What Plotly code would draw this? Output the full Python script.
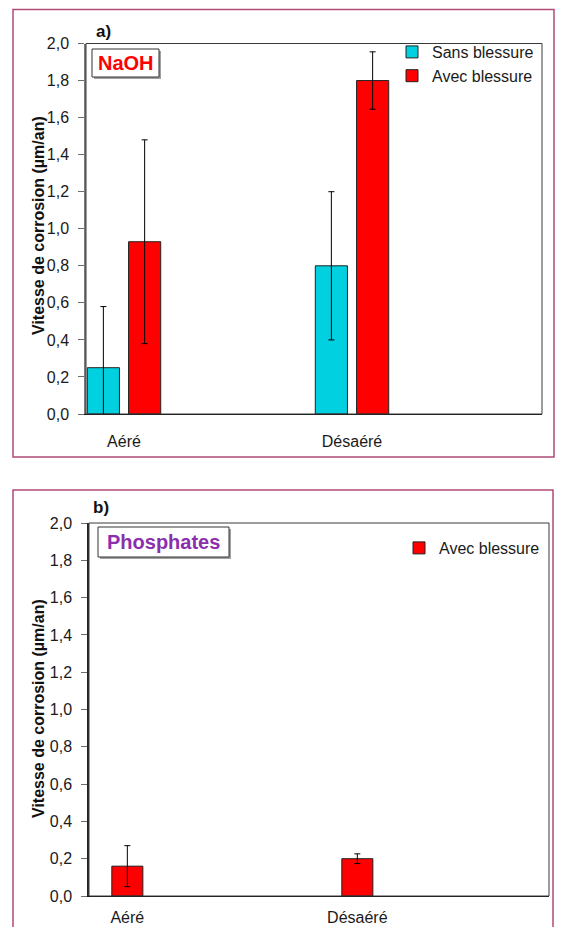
import plotly.graph_objects as go

# ---- data -------------------------------------------------------------
conditions = ["Aéré", "Désaéré"]

naoh_sans = [0.25, 0.80]
naoh_sans_err = [0.33, 0.40]
naoh_avec = [0.93, 1.80]
naoh_avec_err = [0.55, 0.155]

phos_avec = [0.16, 0.20]
phos_avec_err = [0.11, 0.026]

y_ticks = [0.0, 0.2, 0.4, 0.6, 0.8, 1.0, 1.2, 1.4, 1.6, 1.8, 2.0]

# ---- page geometry (pixels -> paper fractions) -------------------------
W, H = 562, 927


def px(x):
    return x / W


def py(y):
    return 1 - y / H


FONT = "Liberation Sans, Arial, sans-serif"
CYAN = "#00D0E0"
RED = "#FF0000"
PURPLE = "#8B2FAE"
FRAME = "#B04C78"

cat_pos = list(range(len(conditions)))

fig = go.Figure()

err_style = dict(type="data", color="black", thickness=1, width=3, visible=True)

fig.add_trace(go.Bar(
    name="Sans blessure", x=cat_pos, y=naoh_sans,
    offset=-0.161, width=0.141,
    marker=dict(color=CYAN, line=dict(color="#222222", width=1)),
    error_y=dict(array=naoh_sans_err, **err_style),
    xaxis="x", yaxis="y", legend="legend",
))
fig.add_trace(go.Bar(
    name="Avec blessure", x=cat_pos, y=naoh_avec,
    offset=0.02, width=0.141,
    marker=dict(color=RED, line=dict(color="#222222", width=1)),
    error_y=dict(array=naoh_avec_err, **err_style),
    xaxis="x", yaxis="y", legend="legend",
))
fig.add_trace(go.Bar(
    name="Avec blessure", x=cat_pos, y=phos_avec,
    offset=-0.0675, width=0.135,
    marker=dict(color=RED, line=dict(color="#222222", width=1)),
    error_y=dict(array=phos_avec_err, **err_style),
    xaxis="x2", yaxis="y2", legend="legend2",
))

x_common = dict(
    range=[-0.1667, 1.8333], tickmode="array", tickvals=cat_pos,
    ticktext=conditions, showgrid=False, zeroline=False, ticks="",
    showline=True, linecolor="#111111", linewidth=1,
    tickfont=dict(family=FONT, size=16, color="#1a1a1a"),
    automargin=False, fixedrange=True,
)
y_common = dict(
    range=[0, 2.0], tickmode="array", tickvals=y_ticks, tickformat=".1f",
    showgrid=False, zeroline=False, ticks="outside", ticklen=6,
    tickcolor="#6e6e6e", showline=True, linewidth=1.5,
    tickfont=dict(family=FONT, size=16, color="#1a1a1a"),
    ticklabelstandoff=6, automargin=False, fixedrange=True,
)

fig.update_layout(
    width=W, height=H,
    margin=dict(l=0, r=0, t=0, b=0),
    paper_bgcolor="white", plot_bgcolor="white",
    separators=", ",
    font=dict(family=FONT, size=16, color="#1a1a1a"),
    barmode="overlay",
    xaxis=dict(domain=[px(86), px(542)], anchor="y", ticklabelstandoff=13, **x_common),
    yaxis=dict(domain=[py(414), py(43.5)], anchor="x", linecolor="#7a7a7a", **y_common),
    xaxis2=dict(domain=[px(89), px(549)], anchor="y2", ticklabelstandoff=7, **x_common),
    yaxis2=dict(domain=[py(896), py(523)], anchor="x2", linecolor="#222222", **y_common),
    legend=dict(
        x=px(392), y=py(35), xanchor="left", yanchor="top",
        bgcolor="rgba(0,0,0,0)", borderwidth=0, tracegroupgap=0,
        font=dict(family=FONT, size=16, color="#1a1a1a"),
    ),
    legend2=dict(
        x=px(399), y=py(531), xanchor="left", yanchor="top",
        bgcolor="rgba(0,0,0,0)", borderwidth=0,
        font=dict(family=FONT, size=16, color="#1a1a1a"),
    ),
    showlegend=True,
)

shapes = []
# outer panel frames
shapes.append(dict(type="rect", xref="paper", yref="paper",
                   x0=px(13), x1=px(554), y0=py(457), y1=py(9.5),
                   line=dict(color=FRAME, width=1.5), layer="below"))
shapes.append(dict(type="rect", xref="paper", yref="paper",
                   x0=px(13), x1=px(553), y0=py(940), y1=py(490),
                   line=dict(color=FRAME, width=1.5), layer="below"))
# plot-area boxes
for xa, ya in (("x", "y"), ("x2", "y2")):
    shapes.append(dict(type="rect", xref=f"{xa} domain", yref=f"{ya} domain",
                       x0=0, x1=1, y0=0, y1=1,
                       line=dict(color="#3a3a3a", width=1), layer="above"))


def label_box(x0, x1, y0, y1):
    # drop shadow, then white framed box
    shapes.append(dict(type="rect", xref="paper", yref="paper",
                       x0=px(x0 + 2), x1=px(x1 + 2), y0=py(y1 + 2), y1=py(y0 + 2),
                       line=dict(width=0), fillcolor="#a0a0a0", layer="above"))
    shapes.append(dict(type="rect", xref="paper", yref="paper",
                       x0=px(x0), x1=px(x1), y0=py(y1), y1=py(y0),
                       line=dict(color="#333333", width=1), fillcolor="white",
                       layer="above"))


label_box(92, 159, 49, 77)
label_box(98, 229, 527, 557)
fig.update_layout(shapes=shapes)

ann = []
ann.append(dict(text="<b>NaOH</b>", x=px(125.5), y=py(63), xref="paper", yref="paper",
                showarrow=False, xanchor="center", yanchor="middle",
                font=dict(family=FONT, size=20, color=RED)))
ann.append(dict(text="<b>Phosphates</b>", x=px(163.5), y=py(542), xref="paper", yref="paper",
                showarrow=False, xanchor="center", yanchor="middle",
                font=dict(family=FONT, size=20, color=PURPLE)))
ann.append(dict(text="<b>a)</b>", x=px(104), y=py(32), xref="paper", yref="paper",
                showarrow=False, xanchor="center", yanchor="middle",
                font=dict(family=FONT, size=17, color="#111111")))
ann.append(dict(text="<b>b)</b>", x=px(101), y=py(508), xref="paper", yref="paper",
                showarrow=False, xanchor="center", yanchor="middle",
                font=dict(family=FONT, size=17, color="#111111")))
for yc in (226, 709):
    ann.append(dict(text="<b>Vitesse de corrosion (µm/an)</b>", x=px(38), y=py(yc),
                    xref="paper", yref="paper", showarrow=False, textangle=-90,
                    xanchor="center", yanchor="middle",
                    font=dict(family=FONT, size=16, color="#111111")))
fig.update_layout(annotations=ann)

fig.write_html("out.html")
